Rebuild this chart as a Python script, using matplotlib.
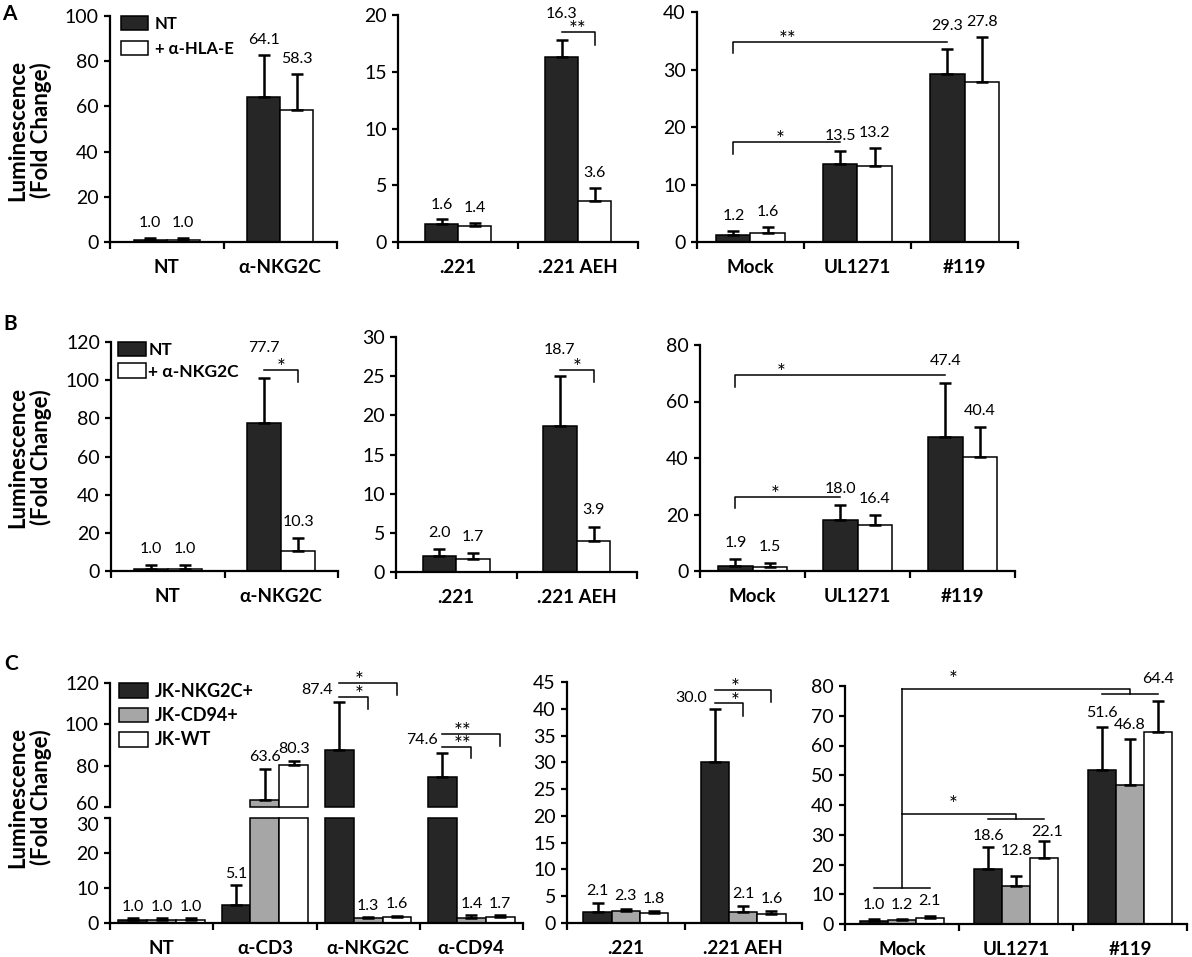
import numpy as np
import matplotlib
matplotlib.use('Agg')
import matplotlib.pyplot as plt
from matplotlib.patches import Patch
from matplotlib.transforms import ScaledTranslation

plt.rcParams['font.family'] = ['Lato', 'DejaVu Sans']

W, H = 1192, 957
DARK = '#262626'
GREY = '#a6a6a6'
WHITE = '#ffffff'

# ---- panel A ----
A1_groups = ['NT', 'α-NKG2C']
A1_nt = [1.0, 64.1]
A1_nt_err = [0.8, 18.7]
A1_hla = [1.0, 58.3]
A1_hla_err = [0.8, 16.2]

A2_groups = ['.221', '.221 AEH']
A2_nt = [1.6, 16.3]
A2_nt_err = [0.4, 1.5]
A2_hla = [1.4, 3.6]
A2_hla_err = [0.3, 1.2]

A3_groups = ['Mock', 'UL1271', '#119']
A3_nt = [1.2, 13.5, 29.3]
A3_nt_err = [0.7, 2.3, 4.2]
A3_hla = [1.6, 13.2, 27.8]
A3_hla_err = [1.0, 3.1, 7.9]

# ---- panel B ----
B1_groups = ['NT', 'α-NKG2C']
B1_nt = [1.0, 77.7]
B1_nt_err = [2.0, 23.3]
B1_nkg = [1.0, 10.3]
B1_nkg_err = [2.0, 7.2]

B2_groups = ['.221', '.221 AEH']
B2_nt = [2.0, 18.7]
B2_nt_err = [0.9, 6.3]
B2_nkg = [1.7, 3.9]
B2_nkg_err = [0.7, 1.9]

B3_groups = ['Mock', 'UL1271', '#119']
B3_nt = [1.9, 18.0, 47.4]
B3_nt_err = [2.3, 5.3, 19.0]
B3_nkg = [1.5, 16.4, 40.4]
B3_nkg_err = [1.3, 3.6, 10.6]

# ---- panel C ----
C1_groups = ['NT', 'α-CD3', 'α-NKG2C', 'α-CD94']
C1_nkg2c = [1.0, 5.1, 87.4, 74.6]
C1_nkg2c_err = [0.4, 5.8, 23.4, 11.5]
C1_cd94 = [1.0, 63.6, 1.3, 1.4]
C1_cd94_err = [0.3, 14.8, 0.4, 0.8]
C1_wt = [1.0, 80.3, 1.6, 1.7]
C1_wt_err = [0.3, 2.0, 0.5, 0.6]

C2_groups = ['.221', '.221 AEH']
C2_nkg2c = [2.1, 30.0]
C2_nkg2c_err = [1.7, 10.0]
C2_cd94 = [2.3, 2.1]
C2_cd94_err = [0.4, 1.1]
C2_wt = [1.8, 1.6]
C2_wt_err = [0.5, 0.6]

C3_groups = ['Mock', 'UL1271', '#119']
C3_nkg2c = [1.0, 18.6, 51.6]
C3_nkg2c_err = [0.6, 7.2, 14.6]
C3_cd94 = [1.2, 12.8, 46.8]
C3_cd94_err = [0.5, 3.2, 15.4]
C3_wt = [2.1, 22.1, 64.4]
C3_wt_err = [0.7, 5.8, 10.5]

TICK_FS = 14
VAL_FS = 11.5
CAT_FS = 13.5
STAR_FS = 15


def px_axes(fig, x0, x1, y0, y1):
    return fig.add_axes([x0 / W, 1 - y1 / H, (x1 - x0) / W, (y1 - y0) / H])


def style_ax(ax, groups, ylim, yticks, show_x=True):
    ax.set_xlim(-0.5, len(groups) - 0.5)
    ax.set_ylim(*ylim)
    ax.set_yticks(yticks)
    for s in ['top', 'right']:
        ax.spines[s].set_visible(False)
    for s in ['left', 'bottom']:
        ax.spines[s].set_linewidth(1.6)
    ax.tick_params(axis='y', direction='out', length=4, width=1.6,
                   labelsize=TICK_FS, pad=4)
    if show_x:
        ax.set_xticks(range(len(groups)))
        ax.set_xticklabels(groups, fontsize=CAT_FS, fontweight='bold')
        ax.set_xticks(np.arange(len(groups) + 1) - 0.5, minor=True)
        ax.tick_params(axis='x', which='major', length=0, pad=12)
        ax.tick_params(axis='x', which='minor', direction='out', length=5, width=1.6)
    else:
        ax.spines['bottom'].set_visible(False)
        ax.set_xticks([])
    ax.patch.set_alpha(0)


def bar_x(ngroups, nseries, j, width):
    return np.arange(ngroups) + (j - (nseries - 1) / 2) * width


def draw_series(ax, x, vals, errs, color, width):
    ax.bar(x, vals, width, color=color, edgecolor='black', linewidth=1.1, zorder=2)
    ax.errorbar(x, vals, yerr=[np.zeros(len(vals)), errs], fmt='none',
                ecolor='black', elinewidth=1.8, capsize=4, capthick=1.8, zorder=3)


def value_labels(ax, x, vals, errs, off, overrides, j):
    for g, (xx, v, e) in enumerate(zip(x, vals, errs)):
        if (g, j) in overrides:
            dx, y, ha = overrides[(g, j)]
            ax.text(xx + dx, y, f'{v:.1f}', ha=ha, va='center', fontsize=VAL_FS)
        else:
            ax.text(xx, v + e + off, f'{v:.1f}', ha='center', va='center', fontsize=VAL_FS)


def star_text(ax, text, x, y, dy=-3):
    ax.annotate(text, (x, y), xytext=(0, dy), textcoords='offset points',
                ha='center', va='baseline', fontsize=STAR_FS, annotation_clip=False)


def bracket(ax, xa, xb, y, drop_a=None, drop_b=None, star='*', star_x=None):
    ys = [y if drop_a is None else drop_a, y, y, y if drop_b is None else drop_b]
    ax.plot([xa, xa, xb, xb], ys, color='black', lw=1.1, clip_on=False, zorder=4)
    sx = (xa + xb) / 2 if star_x is None else star_x
    star_text(ax, star, sx, y)


def bar_panel(ax, groups, series, width, ylim, yticks, off_frac, overrides=None):
    overrides = overrides or {}
    style_ax(ax, groups, ylim, yticks)
    off = off_frac * (ylim[1] - ylim[0])
    xs = []
    for j, (vals, errs, color) in enumerate(series):
        x = bar_x(len(groups), len(series), j, width)
        draw_series(ax, x, vals, errs, color, width)
        value_labels(ax, x, vals, errs, off, overrides, j)
        xs.append(x)
    return xs


def legend(ax, labels, colors, anchor, size, spacing, textpad):
    handles = [Patch(facecolor=c, edgecolor='black', linewidth=1.1, label=l)
               for l, c in zip(labels, colors)]
    ax.legend(handles=handles, loc='upper left', bbox_to_anchor=anchor,
              frameon=False, prop={'weight': 'bold', 'size': size},
              handlelength=1.6, handleheight=0.9, handletextpad=textpad,
              labelspacing=spacing, borderaxespad=0, borderpad=0)


fig = plt.figure(figsize=(W / 100, H / 100), dpi=100)

# ================= A =================
ax = px_axes(fig, 110, 337, 16, 242)
bar_panel(ax, A1_groups, [(A1_nt, A1_nt_err, DARK), (A1_hla, A1_hla_err, WHITE)],
          0.29, (0, 100), range(0, 101, 20), 0.065)
legend(ax, ['NT', '+ α-HLA-E'], [DARK, WHITE], (0.05, 1.0), 12, 0.55, 0.4)

ax = px_axes(fig, 398, 638, 15, 242)
xs = bar_panel(ax, A2_groups, [(A2_nt, A2_nt_err, DARK), (A2_hla, A2_hla_err, WHITE)],
               0.275, (0, 20), range(0, 21, 5), 0.065, {(1, 0): (0, 20.1, 'center')})
bracket(ax, xs[0][1], xs[1][1], 18.5, drop_b=17.4, star='**')

ax = px_axes(fig, 697, 1018, 12, 242)
xs = bar_panel(ax, A3_groups, [(A3_nt, A3_nt_err, DARK), (A3_hla, A3_hla_err, WHITE)],
               0.32, (0, 40), range(0, 41, 10), 0.065, {(2, 0): (0, 37.6, 'center')})
bracket(ax, xs[0][0], xs[0][1], 17.4, drop_a=15.3, star='*', star_x=0.28)
bracket(ax, xs[0][0], xs[0][2], 34.8, drop_a=32.9, star='**', star_x=0.35)

# ================= B =================
ax = px_axes(fig, 111, 338, 342, 571)
xs = bar_panel(ax, B1_groups, [(B1_nt, B1_nt_err, DARK), (B1_nkg, B1_nkg_err, WHITE)],
               0.30, (0, 120), range(0, 121, 20), 0.07, {(1, 0): (0, 116.7, 'center')})
legend(ax, ['NT', '+ α-NKG2C'], [DARK, WHITE], (0.03, 1.0), 12.5, 0.3, 0.15)
bracket(ax, xs[0][1], xs[1][1], 105.5, drop_b=99, star='*')

ax = px_axes(fig, 396, 637, 337, 572)
xs = bar_panel(ax, B2_groups, [(B2_nt, B2_nt_err, DARK), (B2_nkg, B2_nkg_err, WHITE)],
               0.28, (0, 30), range(0, 31, 5), 0.07, {(1, 0): (0, 28.4, 'center')})
bracket(ax, xs[0][1], xs[1][1], 25.8, drop_b=24.3, star='*')

ax = px_axes(fig, 700, 1015, 345, 571)
xs = bar_panel(ax, B3_groups, [(B3_nt, B3_nt_err, DARK), (B3_nkg, B3_nkg_err, WHITE)],
               0.325, (0, 80), range(0, 81, 20), 0.07, {(2, 0): (0, 74.5, 'center')})
bracket(ax, xs[0][0], xs[0][1], 26.2, drop_a=22.3, star='*', star_x=0.22)
bracket(ax, xs[0][0], xs[0][2], 69.3, drop_a=65, star='*', star_x=0.27)

# ================= C =================
# broken axis panel
ax_up = px_axes(fig, 110, 523, 683, 807)
ax_lo = px_axes(fig, 110, 523, 818, 923)
style_ax(ax_lo, C1_groups, (0, 30), [0, 10, 20, 30])
style_ax(ax_up, C1_groups, (60, 120), [60, 80, 100, 120], show_x=False)
# nudge the two labels at the break apart
lab60 = ax_up.get_yticklabels()[0]
lab60.set_transform(lab60.get_transform() + ScaledTranslation(0, 3 / 72, fig.dpi_scale_trans))
lab30 = ax_lo.get_yticklabels()[-1]
lab30.set_transform(lab30.get_transform() + ScaledTranslation(0, -4 / 72, fig.dpi_scale_trans))

c1_series = [(C1_nkg2c, C1_nkg2c_err, DARK), (C1_cd94, C1_cd94_err, GREY),
             (C1_wt, C1_wt_err, WHITE)]
c1_over = {(2, 0): (-0.06, 116.6, 'right'), (3, 0): (-0.04, 92.4, 'right')}
w1 = 0.28
xs = []
for j, (vals, errs, color) in enumerate(c1_series):
    x = bar_x(len(C1_groups), 3, j, w1)
    xs.append(x)
    vals = np.array(vals)
    errs = np.array(errs)
    ax_lo.bar(x, np.minimum(vals, 30), w1, color=color, edgecolor='black',
              linewidth=1.1, zorder=2, clip_on=False)
    hi = vals > 60
    ax_up.bar(x[hi], vals[hi] - 60, w1, bottom=60, color=color, edgecolor='black',
              linewidth=1.1, zorder=2, clip_on=False)
    lo = vals <= 30
    ax_lo.errorbar(x[lo], vals[lo], yerr=[np.zeros(lo.sum()), errs[lo]], fmt='none',
                   ecolor='black', elinewidth=1.8, capsize=4, capthick=1.8, zorder=3)
    ax_up.errorbar(x[hi], vals[hi], yerr=[np.zeros(hi.sum()), errs[hi]], fmt='none',
                   ecolor='black', elinewidth=1.8, capsize=4, capthick=1.8, zorder=3)
    for g in range(len(C1_groups)):
        if (g, j) in c1_over:
            dx, y, ha = c1_over[(g, j)]
            ax_up.text(x[g] + dx, y, f'{vals[g]:.1f}', ha=ha, va='center', fontsize=VAL_FS)
        elif vals[g] > 60:
            ax_up.text(x[g], vals[g] + errs[g] + 6, f'{vals[g]:.1f}', ha='center',
                       va='center', fontsize=VAL_FS)
        else:
            ax_lo.text(x[g], vals[g] + errs[g] + 3.2, f'{vals[g]:.1f}', ha='center',
                       va='center', fontsize=VAL_FS)
legend(ax_up, ['JK-NKG2C+', 'JK-CD94+', 'JK-WT'], [DARK, GREY, WHITE],
       (0.022, 1.0), 13, 0.4, 0.4)
bracket(ax_up, xs[0][2], xs[1][2], 113.2, drop_b=107.4, star='*', star_x=1.91)
bracket(ax_up, xs[0][2], xs[2][2], 120, drop_b=114, star='*', star_x=1.91)
bracket(ax_up, xs[0][3], xs[1][3], 89, drop_b=83.7, star='**', star_x=2.91)
bracket(ax_up, xs[0][3], xs[2][3], 95.3, drop_b=89.5, star='**', star_x=2.91)

ax = px_axes(fig, 567, 802, 682, 923)
xs = bar_panel(ax, C2_groups, [(C2_nkg2c, C2_nkg2c_err, DARK), (C2_cd94, C2_cd94_err, GREY),
                               (C2_wt, C2_wt_err, WHITE)],
               0.24, (0, 45), range(0, 46, 5), 0.05, {(1, 0): (-0.07, 42, 'right')})
bracket(ax, xs[0][1], xs[1][1], 41, drop_b=38.6, star='*', star_x=0.93)
bracket(ax, xs[0][1], xs[2][1], 43.5, drop_b=41.3, star='*', star_x=0.93)

ax = px_axes(fig, 845, 1187, 686, 924)
c3_over = {(1, 0): (0, 29.5, 'center'), (1, 1): (0, 24.5, 'center'),
           (1, 2): (0.03, 31.0, 'center'), (2, 2): (0, 82.5, 'center')}
xs = bar_panel(ax, C3_groups, [(C3_nkg2c, C3_nkg2c_err, DARK), (C3_cd94, C3_cd94_err, GREY),
                               (C3_wt, C3_wt_err, WHITE)],
               0.243, (0, 80), range(0, 81, 10), 0.06, c3_over)
line = dict(color='black', lw=1.1, clip_on=False, zorder=4)
ax.plot([xs[0][0], xs[2][0]], [12.1, 12.1], **line)
ax.plot([xs[1][0], xs[1][0]], [12.1, 79], **line)
ax.plot([xs[1][0], xs[1][1], xs[1][1]], [37, 37, 35.3], **line)
ax.plot([xs[0][1], xs[2][1]], [35.3, 35.3], **line)
ax.plot([xs[1][0], xs[1][2], xs[1][2]], [79, 79, 77.3], **line)
ax.plot([xs[0][2], xs[2][2]], [77.3, 77.3], **line)
for y in (37, 79):
    star_text(ax, '*', 0.45, y, dy=2)

# y labels and panel letters
for yc in (130, 457, 797):
    fig.text(30 / W, 1 - yc / H, 'Luminescence\n(Fold Change)', rotation=90,
             ha='center', va='center', multialignment='center',
             fontsize=16, fontweight='bold', linespacing=1.1)
for letter, (px, py) in zip('ABC', [(9, 14), (10, 324), (11, 664)]):
    fig.text(px / W, 1 - py / H, letter, ha='center', va='center',
             fontsize=15, fontweight='bold')

fig.savefig('out.png', dpi=100)
